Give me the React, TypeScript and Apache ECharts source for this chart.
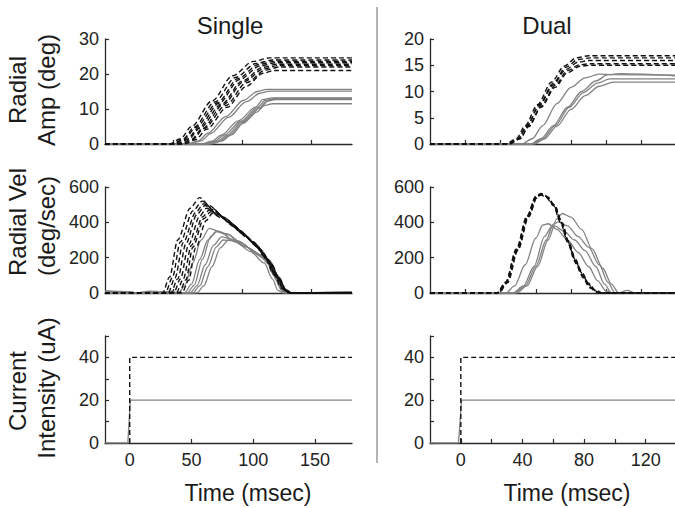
import React, { useEffect, useRef } from 'react';
import * as echarts from 'echarts';

const FONT = '"Liberation Sans", Arial, Helvetica, sans-serif';

// ---- texts ----
const columnTitles = ['Single', 'Dual'];
const rowLabels = [
  ['Radial', 'Amp (deg)'],
  ['Radial Vel', '(deg/sec)'],
  ['Current', 'Intensity (uA)'],
];
const xTitle = 'Time (msec)';

// ---- ticks ----
const singleTopXTicks = [50, 100, 150];
const singleBottomXTicks = [0, 50, 100, 150];
const dualTopXTicks = [20, 40, 60, 80, 100, 120];
const dualBottomXTicks = [0, 20, 40, 60, 80, 100, 120];
const dualBottomXLabels = [0, 40, 80, 120];
const ampSingleYTicks = [0, 10, 20, 30];
const ampDualYTicks = [0, 5, 10, 15, 20];
const velYTicks = [0, 200, 400, 600];
const curYTicks = [0, 10, 20, 30, 40, 50];
const curYLabels = [0, 20, 40];

// ---- Single: radial amplitude (deg) ----
const ampSingleDashed1 = [[0,0],[47,0],[55,1.5],[63,5],[78,12.3],[93,19.5],[108,23.6],[120,24.6],[180,24.6]];
const ampSingleDashed2 = [[0,0],[49,0],[57,1.4],[65,4.8],[80,12],[95,19],[110,23],[122,24],[180,24]];
const ampSingleDashed3 = [[0,0],[50,0],[58,1.4],[66,4.7],[82,11.8],[97,18.7],[112,22.7],[123,23.6],[180,23.6]];
const ampSingleDashed4 = [[0,0],[52,0],[60,1.4],[68,4.6],[83,11.6],[98,18.4],[113,22.3],[124,23.2],[180,23.2]];
const ampSingleDashed5 = [[0,0],[53,0],[61,1.4],[69,4.5],[85,11.4],[100,18],[115,21.9],[125,22.8],[180,22.8]];
const ampSingleDashed6 = [[0,0],[55,0],[63,1.3],[71,4.4],[86,11.2],[101,17.8],[116,21.5],[126,22.4],[180,22.4]];
const ampSingleDashed7 = [[0,0],[56,0],[64,1.3],[72,4.4],[88,11],[103,17.5],[117,21.1],[127,22],[180,22]];
const ampSingleDashed8 = [[0,0],[58,0],[66,1.2],[74,4.2],[89,10.5],[103,16.5],[115,20.2],[123,21],[180,21]];

const ampSingleGray1 = [[0,0],[60,0],[68,0.9],[75,3.1],[88,7.8],[101,12.5],[111,15],[118,15.6],[180,15.6]];
const ampSingleGray2 = [[0,0],[62,0],[70,0.9],[77,3],[90,7.6],[103,12.1],[113,14.5],[120,15.1],[180,15.1]];
const ampSingleGray3 = [[0,0],[70,0],[78,0.8],[85,2.6],[97,6.6],[110,10.6],[115,12.7],[122,13.2],[180,13.2]];
const ampSingleGray4 = [[0,0],[72,0],[80,0.8],[87,2.6],[99,6.5],[111,10.4],[117,12.5],[124,13],[180,13]];
const ampSingleGray5 = [[0,0],[74,0],[82,0.8],[89,2.5],[100,6.4],[112,10.2],[118,12.2],[124,12.7],[180,12.7]];
const ampSingleGray6 = [[0,0],[75,0],[83,0.7],[90,2.3],[100,5.8],[111,9.2],[116,11],[122,11.5],[180,11.5]];
const ampSingleGray7 = [[0,0],[77,0],[85,0.8],[92,2.6],[102,6.5],[113,10.3],[119,12.4],[125,12.9],[180,12.9]];

// ---- Single: radial velocity (deg/sec) ----
const velSingleDashed1 = [[0,0],[42,0],[47,90],[53,300],[62,480],[69,540],[76,495],[86,430],[97,360],[108,290],[116,210],[123,105],[129,25],[133,0],[180,0]];
const velSingleDashed2 = [[0,0],[44,0],[49,85],[55,290],[64,465],[71,520],[78,480],[88,420],[98,352],[109,282],[117,200],[124,100],[130,22],[134,0],[180,0]];
const velSingleDashed3 = [[0,0],[46,0],[51,85],[57,285],[66,455],[72,505],[79,470],[89,412],[99,345],[110,275],[118,195],[125,95],[131,20],[135,0],[180,0]];
const velSingleDashed4 = [[0,0],[48,0],[53,80],[59,280],[67,445],[73,495],[80,460],[90,405],[100,340],[110,268],[118,190],[125,92],[131,18],[135,0],[180,0]];
const velSingleDashed5 = [[0,0],[50,0],[55,80],[61,275],[69,435],[74,480],[81,450],[91,398],[101,332],[111,262],[119,185],[126,90],[132,18],[136,0],[180,0]];
const velSingleDashed6 = [[0,0],[52,0],[57,78],[63,270],[71,430],[76,470],[83,440],[93,388],[102,325],[112,255],[120,178],[127,85],[132,15],[136,0],[180,0]];
const velSingleDashed7 = [[0,0],[54,0],[59,75],[64,260],[72,420],[77,460],[84,432],[94,380],[103,318],[113,248],[121,170],[127,80],[132,12],[136,0],[180,0]];
const velSingleDashed8 = [[0,0],[56,0],[61,72],[66,255],[74,412],[78,450],[85,425],[95,372],[104,310],[114,240],[121,165],[127,78],[132,10],[136,0],[180,0]];

const velSingleGray1 = [[0,12],[18,8],[22,0],[30,8],[45,8],[54,2],[58,40],[64,170],[70,300],[76,366],[84,345],[95,290],[106,235],[116,170],[122,80],[126,15],[130,0],[180,6]];
const velSingleGray2 = [[0,10],[20,5],[24,0],[32,10],[48,6],[58,0],[63,50],[69,190],[75,300],[81,347],[89,330],[100,280],[110,225],[119,190],[125,90],[129,20],[133,0],[180,8]];
const velSingleGray3 = [[0,0],[64,0],[69,40],[75,150],[81,260],[86,300],[93,295],[103,260],[113,215],[120,185],[126,100],[131,25],[135,0],[180,0]];
const velSingleGray4 = [[0,0],[62,0],[67,40],[73,160],[79,270],[85,318],[92,305],[102,265],[112,215],[120,160],[125,70],[129,10],[132,0],[180,0]];
const velSingleGray5 = [[0,0],[67,0],[72,40],[78,150],[84,255],[90,300],[97,295],[106,250],[115,200],[121,150],[126,70],[130,12],[133,0],[180,0]];
const velSingleGray6 = [[0,0],[60,0],[65,45],[71,190],[77,320],[82,350],[89,335],[99,285],[109,232],[117,190],[123,100],[128,25],[132,0],[180,0]];

// ---- Dual: radial amplitude (deg) ----
const ampDualDashed1 = [[0,0],[43,0],[49,1],[54,3.5],[61,7.5],[69,11.8],[76,14.8],[83,16.4],[90,16.8],[139,16.8]];
const ampDualDashed2 = [[0,0],[44,0],[50,1],[55,3.5],[62,7.5],[70,11.6],[77,14.6],[84,16.1],[91,16.4],[139,16.4]];
const ampDualDashed3 = [[0,0],[44,0],[50,1],[55,3.4],[62,7.3],[70,11.3],[77,14.2],[84,15.6],[90,15.9],[139,15.9]];
const ampDualDashed4 = [[0,0],[45,0],[51,1],[56,3.4],[63,7.2],[71,11.2],[78,14],[85,15.1],[91,15.3],[139,15.3]];
const ampDualDashed5 = [[0,0],[45,0],[51,1],[56,3.3],[63,7],[71,10.8],[78,13.6],[85,14.8],[91,15],[139,15]];

const ampDualGray1 = [[0,0],[52,0],[58,1],[64,3.5],[72,7.7],[80,10.8],[88,12.6],[96,13.3],[104,13.2],[139,13.1]];
const ampDualGray2 = [[0,0],[57,0],[63,1],[70,3.5],[78,7],[86,10],[94,12],[101,13.2],[108,13.4],[139,13.0]];
const ampDualGray3 = [[0,0],[58,0],[64,1],[71,3.5],[79,7],[87,9.8],[95,11.6],[102,12.4],[139,12.4]];
const ampDualGray4 = [[0,0],[59,0],[65,1],[72,3.4],[80,6.6],[88,9.2],[96,11],[104,11.8],[139,11.8]];

// ---- Dual: radial velocity (deg/sec) ----
const velDualDashed1 = [[0,0],[38,0],[43,60],[49,244],[55,430],[60,545],[63,563],[66,548],[70,500],[74,410],[78,290],[82,185],[86,105],[90,40],[94,8],[97,0],[139,0]];
const velDualDashed2 = [[0,0],[39,0],[44,65],[50,255],[56,440],[61,550],[64,560],[67,542],[71,490],[75,395],[79,280],[83,175],[87,95],[91,32],[95,5],[98,0],[139,0]];
const velDualDashed3 = [[0,0],[38,0],[43,55],[49,235],[55,420],[60,535],[63,555],[66,540],[70,495],[74,400],[78,295],[82,195],[86,115],[90,48],[94,12],[97,0],[139,0]];
const velDualDashed4 = [[0,0],[39,0],[44,58],[50,245],[56,432],[61,548],[64,558],[67,540],[71,485],[75,390],[79,270],[83,165],[87,85],[91,28],[95,4],[98,0],[139,0]];
const velDualDashed5 = [[0,0],[38,0],[43,62],[49,250],[55,435],[60,545],[63,560],[66,546],[70,502],[74,415],[78,300],[82,200],[86,120],[90,55],[94,15],[98,0],[139,0]];

const velDualGray1 = [[0,0],[43,0],[48,40],[54,160],[60,310],[64,385],[67,392],[72,360],[78,300],[84,230],[90,150],[95,70],[100,10],[104,0],[139,0]];
const velDualGray2 = [[0,0],[49,0],[55,40],[61,150],[67,300],[72,420],[75,450],[80,430],[86,360],[92,250],[98,140],[103,50],[107,0],[112,15],[116,0],[139,0]];
const velDualGray3 = [[0,0],[48,0],[54,40],[60,150],[66,300],[70,390],[73,403],[78,380],[84,320],[90,260],[96,160],[101,60],[105,0],[139,0]];
const velDualGray4 = [[0,0],[47,0],[53,40],[59,150],[65,320],[69,375],[71,378],[76,350],[82,300],[88,240],[94,150],[99,50],[103,0],[139,0]];

// ---- Current intensity (uA) ----
const curSingleHigh = [[0,0],[0,40],[180,40]];
const curSingleLow = [[-20,0],[-1.5,0],[0.5,20],[180,20]];
const curDualHigh = [[0,0],[0,40],[139,40]];
const curDualLow = [[-20,0],[-1.5,0],[0.5,20],[139,20]];

const GRAY = '#828282';
const BLACK = '#111111';
const AXIS = '#2a2a2a';

function line(idx: number, data: number[][], dashed: boolean, smooth = true) {
  return {
    type: 'line',
    xAxisIndex: idx,
    yAxisIndex: idx,
    data,
    symbol: 'none',
    showSymbol: false,
    silent: true,
    smooth: smooth ? 0.3 : false,
    smoothMonotone: 'x',
    z: dashed ? 4 : 3,
    lineStyle: dashed
      ? { color: BLACK, width: 1.4, type: [5, 3] }
      : { color: GRAY, width: 1.3, type: 'solid' },
  };
}

function xAxis(idx: number, min: number, max: number, ticks: number[], labels: number[] | null) {
  return {
    type: 'value',
    gridIndex: idx,
    min,
    max,
    axisLine: { show: true, onZero: false, lineStyle: { color: AXIS, width: 1.3 } },
    axisTick: { show: true, inside: true, length: 4, customValues: ticks, lineStyle: { color: AXIS, width: 1.2 } },
    axisLabel: labels
      ? { show: true, customValues: labels, fontSize: 18, fontFamily: FONT, color: '#222', margin: 8 }
      : { show: false },
    splitLine: { show: false },
  };
}

function yAxis(idx: number, min: number, max: number, ticks: number[], labels: number[]) {
  return {
    type: 'value',
    gridIndex: idx,
    min,
    max,
    axisLine: { show: true, onZero: false, lineStyle: { color: AXIS, width: 1.3 } },
    axisTick: { show: true, inside: true, length: 4, customValues: ticks, lineStyle: { color: AXIS, width: 1.2 } },
    axisLabel: { show: true, customValues: labels, fontSize: 18, fontFamily: FONT, color: '#222', margin: 6 },
    splitLine: { show: false },
  };
}

function txt(x: number, y: number, text: string, size: number, rotate = false) {
  return {
    type: 'text',
    x,
    y,
    rotation: rotate ? Math.PI / 2 : 0,
    style: {
      text,
      font: `${size}px ${FONT}`,
      fill: '#1a1a1a',
      align: 'center',
      verticalAlign: 'middle',
      textAlign: 'center',
      textVerticalAlign: 'middle',
    },
  };
}

export default function App() {
  const ref = useRef<HTMLDivElement>(null);

  useEffect(() => {
    if (!ref.current) return;
    const chart = echarts.init(ref.current, null, { renderer: 'svg' });

    const grids = [
      { left: 105, top: 39, width: 247, height: 105 },
      { left: 430, top: 39, width: 245, height: 105 },
      { left: 105, top: 187, width: 247, height: 106 },
      { left: 430, top: 187, width: 245, height: 106 },
      { left: 105, top: 336, width: 247, height: 107 },
      { left: 430, top: 336, width: 245, height: 107 },
    ];

    const series: any[] = [];
    [ampSingleGray1, ampSingleGray2, ampSingleGray3, ampSingleGray4, ampSingleGray5, ampSingleGray6, ampSingleGray7]
      .forEach((d) => series.push(line(0, d, false)));
    [ampSingleDashed1, ampSingleDashed2, ampSingleDashed3, ampSingleDashed4, ampSingleDashed5, ampSingleDashed6, ampSingleDashed7, ampSingleDashed8]
      .forEach((d) => series.push(line(0, d, true)));
    [ampDualGray1, ampDualGray2, ampDualGray3, ampDualGray4].forEach((d) => series.push(line(1, d, false)));
    [ampDualDashed1, ampDualDashed2, ampDualDashed3, ampDualDashed4, ampDualDashed5].forEach((d) => series.push(line(1, d, true)));
    [velSingleGray1, velSingleGray2, velSingleGray3, velSingleGray4, velSingleGray5, velSingleGray6]
      .forEach((d) => series.push(line(2, d, false)));
    [velSingleDashed1, velSingleDashed2, velSingleDashed3, velSingleDashed4, velSingleDashed5, velSingleDashed6, velSingleDashed7, velSingleDashed8]
      .forEach((d) => series.push(line(2, d, true)));
    [velDualGray1, velDualGray2, velDualGray3, velDualGray4].forEach((d) => series.push(line(3, d, false)));
    [velDualDashed1, velDualDashed2, velDualDashed3, velDualDashed4, velDualDashed5].forEach((d) => series.push(line(3, d, true)));
    series.push(line(4, curSingleLow, false, false));
    series.push(line(4, curSingleHigh, true, false));
    series.push(line(5, curDualLow, false, false));
    series.push(line(5, curDualHigh, true, false));

    const option = {
      animation: false,
      backgroundColor: '#ffffff',
      grid: grids.map((g) => ({ ...g, containLabel: false })),
      xAxis: [
        xAxis(0, 0, 180, singleTopXTicks, null),
        xAxis(1, 0, 139, dualTopXTicks, null),
        xAxis(2, 0, 180, singleTopXTicks, null),
        xAxis(3, 0, 139, dualTopXTicks, null),
        xAxis(4, -20, 180, singleBottomXTicks, singleBottomXTicks),
        xAxis(5, -20, 139, dualBottomXTicks, dualBottomXLabels),
      ],
      yAxis: [
        yAxis(0, 0, 30, ampSingleYTicks, ampSingleYTicks),
        yAxis(1, 0, 20, ampDualYTicks, ampDualYTicks),
        yAxis(2, 0, 600, velYTicks, velYTicks),
        yAxis(3, 0, 600, velYTicks, velYTicks),
        yAxis(4, 0, 50, curYTicks, curYLabels),
        yAxis(5, 0, 50, curYTicks, curYLabels),
      ],
      graphic: [
        txt(230, 25, columnTitles[0], 24),
        txt(547, 25, columnTitles[1], 24),
        txt(17, 90, rowLabels[0][0], 24, true),
        txt(46, 90, rowLabels[0][1], 24, true),
        txt(17, 222, rowLabels[1][0], 24, true),
        txt(46, 226, rowLabels[1][1], 24, true),
        txt(17, 391, rowLabels[2][0], 24, true),
        txt(46, 388, rowLabels[2][1], 24, true),
        txt(248, 493, xTitle, 23),
        txt(567, 493, xTitle, 23),
        {
          type: 'line',
          shape: { x1: 377, y1: 7, x2: 377, y2: 463 },
          style: { stroke: '#9a9a9a', lineWidth: 1.5 },
        },
      ],
      series,
    };

    chart.setOption(option as any);
    return () => chart.dispose();
  }, []);

  return (
    <div
      ref={ref}
      style={{ position: 'fixed', left: 0, top: 0, width: 675, height: 508, background: '#fff' }}
    />
  );
}
